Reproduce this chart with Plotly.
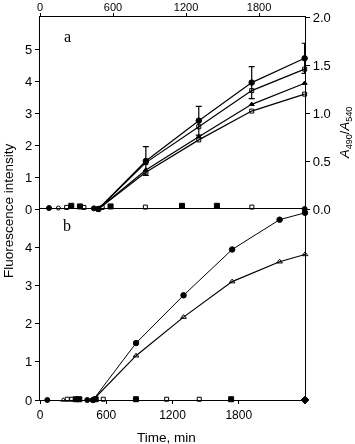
import plotly.graph_objects as go

# ---------------- data ----------------
# panel a (top x-axis scale)
t_a = [480, 870, 1305, 1740, 2175]
a_circle = [0, 1.50, 2.76, 3.95, 4.71]
a_circle_err = [0, 0.45, 0.45, 0.50, 0.47]
a_opensq = [0, 1.45, 2.57, 3.70, 4.37]
a_triangle = [0, 1.22, 2.26, 3.27, 3.93]
a_opensq2 = [0, 1.15, 2.16, 3.06, 3.59]

a_base_fcircle_t = [74, 443, 2175]
a_base_fcircle_y = [0.03, 0.02, 0.0]
a_base_ocircle_t = [151]
a_base_ocircle_y = [0.03]
a_base_osq_t = [219, 361, 511, 866, 1741]
a_base_osq_y = [0.05, 0.05, 0.05, 0.06, 0.06]
a_base_fsq_t = [257, 328, 580, 1167, 1454]
a_base_fsq_y = [0.10, 0.08, 0.08, 0.10, 0.10]

# panel b (bottom x-axis scale)
t_b = [480, 870, 1300, 1740, 2170, 2400]
b_circle = [0, 1.49, 2.74, 3.94, 4.72, 4.90]
b_triangle = [0, 1.16, 2.17, 3.10, 3.62, 3.81]

b_base_fcircle_t = [66, 428]
b_base_otri_t = [211]
b_base_osq_t = [247, 287, 573, 1147, 1442]
b_base_fsq_t = [323, 356, 504, 869, 1731]
b_base_diamond_t = [2400]

ya_ticks = [0, 1, 2, 3, 4, 5]
yb_ticks = [0, 1, 2, 3, 4]
yr_ticks = [0.0, 0.5, 1.0, 1.5, 2.0]
x_ticks = [0, 600, 1200, 1800]

FONT = "Liberation Sans, Arial, Helvetica, sans-serif"
SERIF = "Liberation Serif, Times New Roman, serif"
K = "black"

fig = go.Figure()

def line_trace(x, y, symbol, xa, ya, size=5, err=None, lw=1.2):
    kw = {}
    if err is not None:
        kw["error_y"] = dict(type="data", array=err, visible=True, color=K,
                             thickness=1.2, width=3)
    return go.Scatter(x=x, y=y, mode="lines+markers", xaxis=xa, yaxis=ya,
                      line=dict(color=K, width=lw),
                      marker=dict(symbol=symbol, size=size, color=K,
                                  line=dict(color=K, width=1)),
                      cliponaxis=False, showlegend=False, **kw)

def pts(x, y, symbol, xa, ya, size=4.5):
    return go.Scatter(x=x, y=y, mode="markers", xaxis=xa, yaxis=ya,
                      marker=dict(symbol=symbol, size=size, color=K,
                                  line=dict(color=K, width=1)),
                      cliponaxis=False, showlegend=False)

# panel a
fig.add_trace(line_trace(t_a, a_circle, "circle", "x", "y", 5.5, a_circle_err))
fig.add_trace(line_trace(t_a, a_opensq, "square-open", "x", "y", 4))
fig.add_trace(line_trace(t_a, a_triangle, "triangle-up", "x", "y", 4.5))
fig.add_trace(line_trace(t_a, a_opensq2, "square-open", "x", "y", 4))
fig.add_trace(pts(a_base_fcircle_t, a_base_fcircle_y, "circle", "x", "y", 5))
fig.add_trace(pts(a_base_ocircle_t, a_base_ocircle_y, "circle-open", "x", "y", 4))
fig.add_trace(pts(a_base_osq_t, a_base_osq_y, "square-open", "x", "y", 4))
fig.add_trace(pts(a_base_fsq_t, a_base_fsq_y, "square", "x", "y", 5))
# invisible carrier so the right-hand ratio axis is drawn
fig.add_trace(go.Scatter(x=t_a[:len(yr_ticks)], y=yr_ticks, xaxis="x", yaxis="y3",
                         mode="markers", opacity=0, hoverinfo="skip",
                         marker=dict(size=1, color="white"), showlegend=False))

# panel b
fig.add_trace(line_trace(t_b, b_circle, "circle", "x2", "y2", 5.5, lw=1.0))
fig.add_trace(line_trace(t_b, b_triangle, "triangle-up-open", "x2", "y2", 5, lw=1.2))
fig.add_trace(pts(b_base_fcircle_t, [0] * len(b_base_fcircle_t), "circle", "x2", "y2", 5))
fig.add_trace(pts(b_base_otri_t, [0] * len(b_base_otri_t), "triangle-up-open", "x2", "y2", 4.5))
fig.add_trace(pts(b_base_osq_t, [0.02] * len(b_base_osq_t), "square-open", "x2", "y2", 4))
fig.add_trace(pts(b_base_fsq_t, [0.02] * len(b_base_fsq_t), "square", "x2", "y2", 5))
fig.add_trace(pts(b_base_diamond_t, [0] * len(b_base_diamond_t), "diamond", "x2", "y2", 6))

split = 191 / 383

axis_common = dict(showline=True, linecolor=K, linewidth=1.2, ticks="outside",
                   tickcolor=K, tickwidth=1, showgrid=False, zeroline=False,
                   automargin=False)

def tf(size):
    return dict(family=FONT, size=size, color=K)

fig.update_layout(
    template="none",
    width=355, height=444,
    margin=dict(l=40, r=50, t=17, b=44, pad=0),
    paper_bgcolor="white", plot_bgcolor="white",
    font=dict(family=FONT, size=12, color=K),
    showlegend=False,
    xaxis=dict(domain=[0, 1], range=[0, 2178], anchor="y", side="top",
               tickvals=x_ticks, ticklen=3, tickfont=tf(11),
               ticklabelstandoff=-2, **axis_common),
    xaxis2=dict(domain=[0, 1], range=[0, 2400], anchor="y2", side="bottom",
                tickvals=x_ticks, ticklen=3, tickfont=tf(12),
                mirror=True, **axis_common),
    yaxis=dict(domain=[split, 1], range=[0, 6], anchor="x",
               tickvals=ya_ticks, ticklen=4, tickfont=tf(13),
               **axis_common),
    yaxis2=dict(domain=[0, split], range=[0, 5], anchor="x2",
                tickvals=yb_ticks, ticklen=4, tickfont=tf(13),
                mirror=True, **axis_common),
    yaxis3=dict(domain=[split, 1], range=[0, 2], anchor="x", overlaying="y",
                side="right", tickvals=yr_ticks, ticktext=[f"{v:.1f}" for v in yr_ticks],
                tickmode="array", ticklen=4, tickfont=tf(13), **axis_common),
)

W = 265.0
H = 383.0
def px(xp):
    return (xp - 40) / W
def py(yp):
    return (400 - yp) / H

fig.add_annotation(text="Fluorescence intensity", xref="paper", yref="paper",
                   x=px(8), y=py(211), textangle=-90, showarrow=False,
                   xanchor="center", yanchor="middle", font=tf(13.5))
fig.add_annotation(text="<i>A</i><sub>490</sub>/<i>A</i><sub>540</sub>",
                   xref="paper", yref="paper", x=px(345), y=py(133),
                   textangle=-90, showarrow=False, xanchor="center",
                   yanchor="middle", font=tf(13))
fig.add_annotation(text="Time, min", xref="paper", yref="paper",
                   x=px(166), y=py(437), showarrow=False, xanchor="center",
                   yanchor="middle", font=tf(13.5))
fig.add_annotation(text="a", xref="paper", yref="paper", x=px(67), y=py(36),
                   showarrow=False, xanchor="center", yanchor="middle",
                   font=dict(family=SERIF, size=16, color=K))
fig.add_annotation(text="b", xref="paper", yref="paper", x=px(67), y=py(225),
                   showarrow=False, xanchor="center", yanchor="middle",
                   font=dict(family=SERIF, size=16, color=K))

fig.write_html("out.html", config={"displayModeBar": False},
               post_script="document.body.style.margin='0';document.body.style.padding='0';")
